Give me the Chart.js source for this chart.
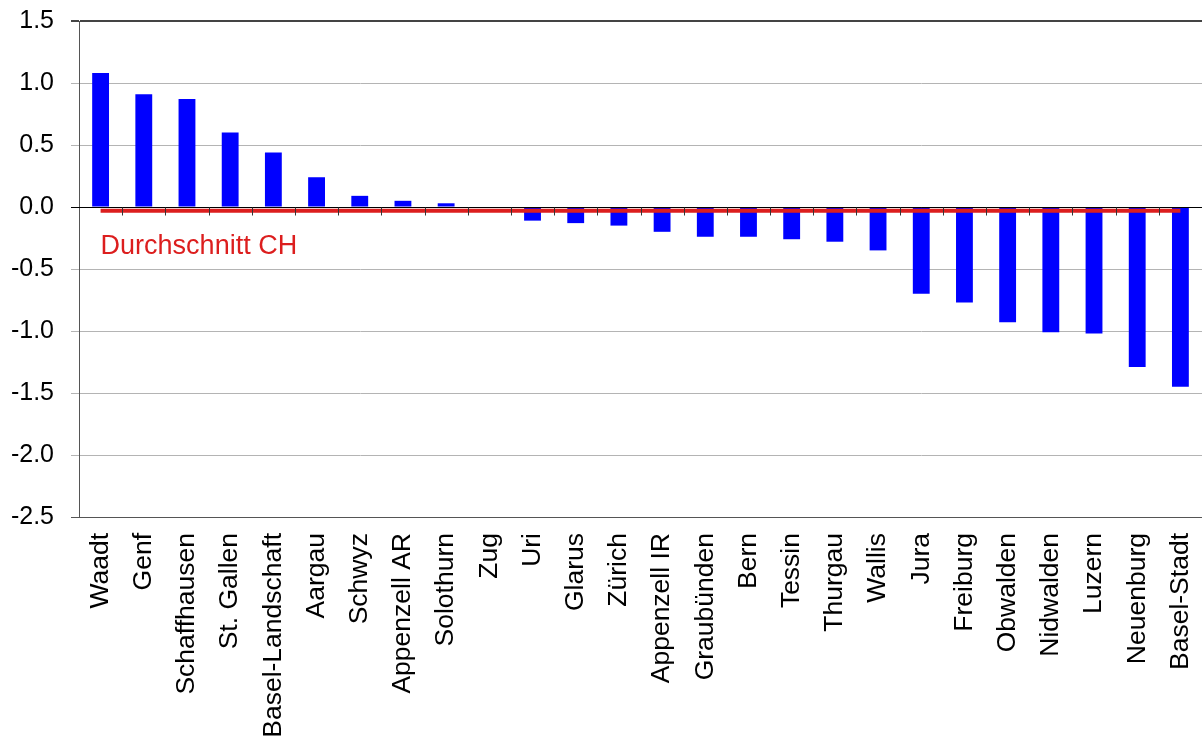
<!DOCTYPE html>
<html>
<head>
<meta charset="utf-8">
<script src="https://cdn.jsdelivr.net/npm/chart.js@4/dist/chart.umd.min.js"></script>
<style>
  html, body { margin: 0; padding: 0; background: #fff; }
  #wrap { width: 1202px; height: 740px; position: relative; }
</style>
</head>
<body>
<div id="wrap"><canvas id="c"></canvas></div>
<script>
// Kantone, sortiert nach Abweichung
const cantons = ['Waadt', 'Genf', 'Schaffhausen', 'St. Gallen', 'Basel-Landschaft', 'Aargau', 'Schwyz',
  'Appenzell AR', 'Solothurn', 'Zug', 'Uri', 'Glarus', 'Zürich', 'Appenzell IR', 'Graubünden', 'Bern',
  'Tessin', 'Thurgau', 'Wallis', 'Jura', 'Freiburg', 'Obwalden', 'Nidwalden', 'Luzern', 'Neuenburg', 'Basel-Stadt'];
const deviation = [1.08, 0.91, 0.87, 0.60, 0.44, 0.24, 0.09, 0.05, 0.03, 0.00, -0.11, -0.13, -0.15, -0.20,
  -0.24, -0.24, -0.26, -0.28, -0.35, -0.70, -0.77, -0.93, -1.01, -1.02, -1.29, -1.45];
const averageCH = -0.03;
const averageLabel = 'Durchschnitt CH';
const yTicks = [1.5, 1.0, 0.5, 0.0, -0.5, -1.0, -1.5, -2.0, -2.5];

const FONT = "'Liberation Sans', Arial, sans-serif";

// Nulllinie mit Teilstrichen zwischen den Kategorien, plus Beschriftung des Mittelwerts
const zeroAxisPlugin = {
  id: 'zeroAxis',
  afterDatasetsDraw(chart) {
    const { ctx, chartArea, scales: { x, y } } = chart;
    const y0 = Math.round(y.getPixelForValue(0)) + 0.5;
    ctx.save();
    ctx.strokeStyle = '#000';
    ctx.lineWidth = 1;
    ctx.beginPath();
    ctx.moveTo(chartArea.left, y0);
    ctx.lineTo(chartArea.right, y0);
    ctx.stroke();
    ctx.strokeStyle = '#333';
    ctx.beginPath();
    for (let i = 1; i < cantons.length; i++) {
      const bx = Math.round((x.getPixelForValue(i - 1) + x.getPixelForValue(i)) / 2) + 0.5;
      ctx.moveTo(bx, y0);
      ctx.lineTo(bx, y0 + 8);
    }
    ctx.stroke();
    ctx.restore();
  },
  afterDraw(chart) {
    const { ctx, scales: { x, y } } = chart;
    ctx.save();
    ctx.fillStyle = '#dc1e1e';
    ctx.font = '27px ' + FONT;
    ctx.textAlign = 'left';
    ctx.textBaseline = 'alphabetic';
    ctx.fillText(averageLabel, x.getPixelForValue(0), y.getPixelForValue(averageCH) + 43);
    ctx.restore();
  }
};

new Chart(document.getElementById('c'), {
  data: {
    labels: cantons,
    datasets: [
      {
        type: 'line',
        label: averageLabel,
        data: cantons.map(() => averageCH),
        borderColor: '#dc1e1e',
        borderWidth: 4,
        pointRadius: 0,
        fill: false,
        order: 0
      },
      {
        type: 'bar',
        label: 'Abweichung',
        data: deviation,
        backgroundColor: '#0000ff',
        borderWidth: 0,
        barPercentage: 0.39,
        categoryPercentage: 1.0,
        order: 1
      }
    ]
  },
  options: {
    responsive: true,
    maintainAspectRatio: false,
    animation: false,
    devicePixelRatio: 1,
    layout: { padding: { left: 0, right: -3, top: 21, bottom: 0 } },
    plugins: { legend: { display: false }, tooltip: { enabled: false } },
    scales: {
      x: {
        type: 'category',
        offset: true,
        afterFit(s) {
          s.height = 223;
          s.paddingLeft = 0;
          s.paddingRight = 0;
        },
        grid: { display: false, drawTicks: false },
        border: { display: true, color: '#555', width: 1 },
        ticks: {
          color: '#000',
          font: { family: FONT, size: 26.5 },
          minRotation: 90,
          maxRotation: 90,
          padding: 16,
          autoSkip: false
        }
      },
      y: {
        min: -2.5,
        max: 1.5,
        afterBuildTicks(scale) {
          scale.ticks = yTicks.map(v => ({ value: v }));
        },
        afterFit(s) {
          s.width = 79;
          s.paddingTop = 0;
          s.paddingBottom = 0;
        },
        grid: {
          color: (c) => {
            const v = c.tick ? c.tick.value : null;
            if (v === 0) return '#000';
            if (v === 1.5) return '#444';
            if (v === -2.5) return '#555';
            return '#b4b4b4';
          },
          lineWidth: (c) => (c.tick && c.tick.value === 1.5 ? 2 : 1),
          tickLength: 8,
          drawTicks: true
        },
        border: { display: true, color: '#555', width: 1 },
        ticks: {
          color: '#000',
          font: { family: FONT, size: 25 },
          padding: 17,
          callback: (v) => Number(v).toFixed(1)
        }
      }
    }
  },
  plugins: [zeroAxisPlugin]
});
</script>
</body>
</html>
